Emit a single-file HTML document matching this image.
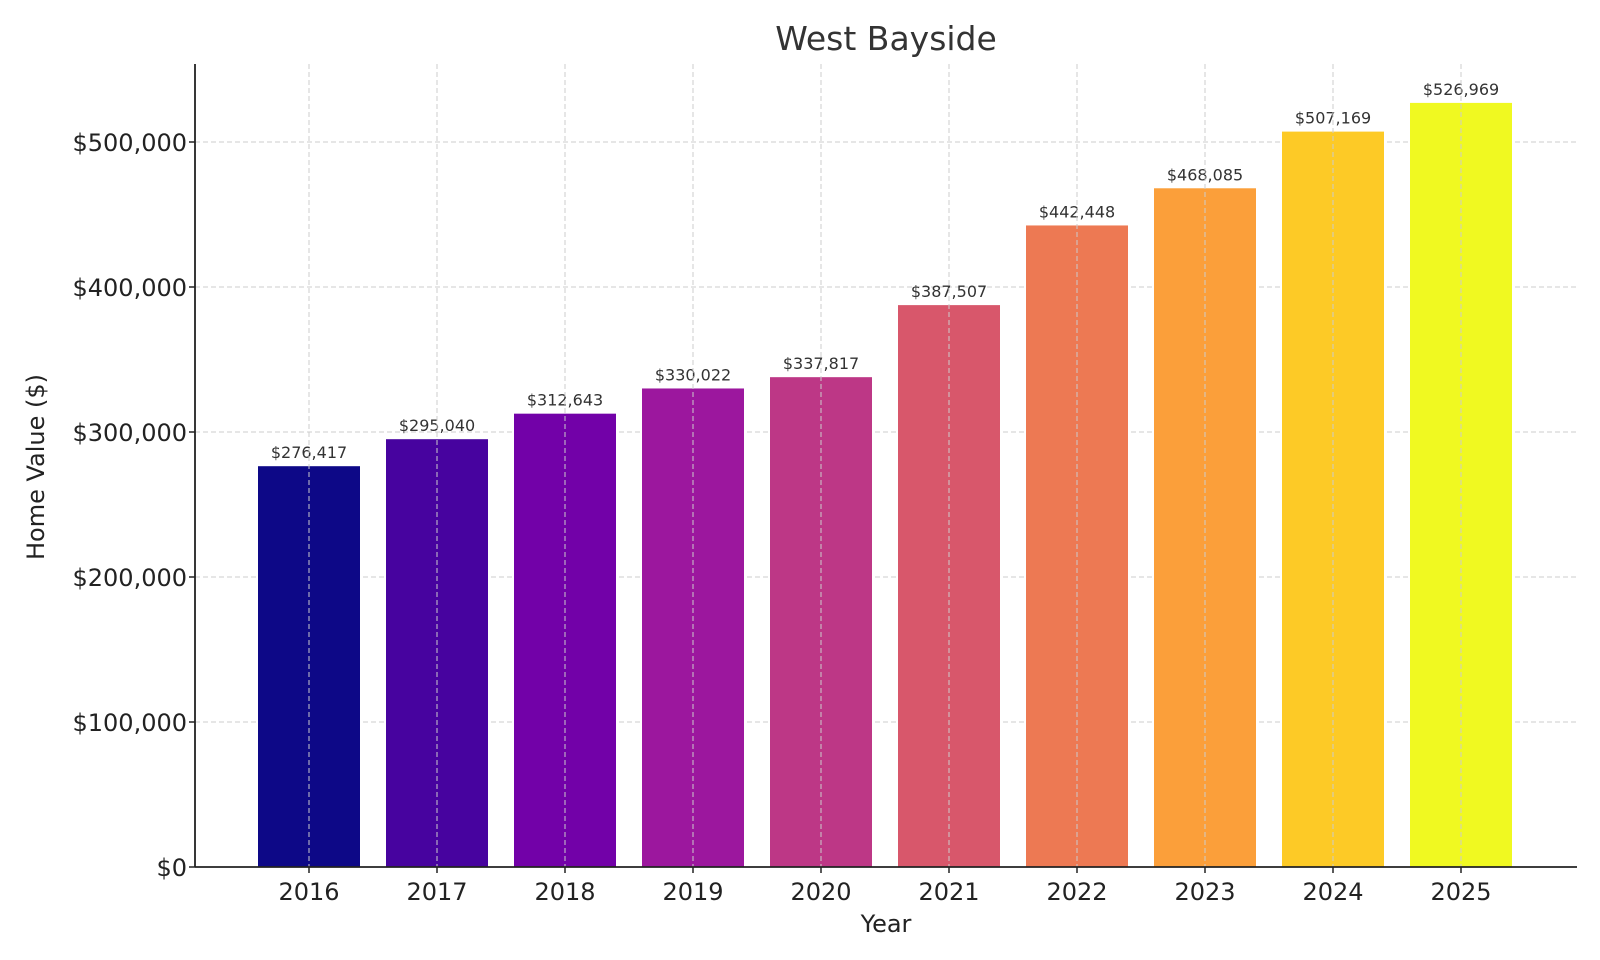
<!DOCTYPE html>
<html><head><meta charset="utf-8"><style>
html,body{margin:0;padding:0;background:#fff}
svg{display:block;font-family:"DejaVu Sans","Liberation Sans",sans-serif}
</style></head><body>
<svg id="chart" width="1600" height="960">
<text x="886" y="50" font-size="33" fill="#333" text-anchor="middle">West Bayside</text>
<text x="886" y="932" font-size="24" fill="#222" text-anchor="middle">Year</text>
<text transform="translate(44,467) rotate(-90)" font-size="24" fill="#222" text-anchor="middle">Home Value ($)</text>
<g id="grid"></g><g id="bars"></g><g id="axes"></g>
</svg>
<script>
const years=["2016","2017","2018","2019","2020","2021","2022","2023","2024","2025"];
const values=[276417,295040,312643,330022,337817,387507,442448,468085,507169,526969];
const yTicks=[0,100000,200000,300000,400000,500000];
const colors=["#0d0887","#47039f","#7201a8","#9c179e","#bd3786","#d8576b","#ed7953","#fb9f3a","#fdca26","#f0f921"];
const L=195,R=1577,T=64,B=867;
const y=v=>B-(v/500000)*(B-142);
const x=i=>309+i*128;
const bw=102;
const NS="http://www.w3.org/2000/svg";
function mk(t,a,p){const e=document.createElementNS(NS,t);for(const k in a)e.setAttribute(k,a[k]);p.appendChild(e);return e;}
const fmt=v=>"$"+v.toLocaleString("en-US");
const g=document.getElementById("grid"),b=document.getElementById("bars"),ax=document.getElementById("axes");
yTicks.forEach(t=>{
 const l=mk("line",{x1:L,x2:R,y1:y(t),y2:y(t),stroke:"#ccc","stroke-dasharray":"5,3","stroke-width":1},g);
 
 
 const tk=mk("line",{x1:L-6,x2:L,y1:y(t),y2:y(t),stroke:"#222","stroke-width":1.5},ax);
 
 
 const tx=mk("text",{x:L-8,y:y(t)+9,"font-size":24,fill:"#222","text-anchor":"end"},ax);
 tx.textContent=fmt(t);
 
 
});
years.forEach((yr,i)=>{
 const r=mk("rect",{x:x(i)-bw/2,y:y(values[i]),width:bw,height:B-y(values[i]),fill:colors[i]},b);
 
 
 const vl=mk("text",{x:x(i),y:y(values[i])-8,"font-size":16,fill:"#333","text-anchor":"middle"},b);
 vl.textContent=fmt(values[i]);
 
 
 const gl=mk("line",{x1:x(i),x2:x(i),y1:T,y2:B,stroke:"#ccc","stroke-dasharray":"5,3","stroke-width":1},b);
 
 
 const tk=mk("line",{x1:x(i),x2:x(i),y1:B,y2:B+6,stroke:"#222","stroke-width":1.5},ax);
 
 
 const tx=mk("text",{x:x(i),y:B+33,"font-size":24,fill:"#222","text-anchor":"middle"},ax);
 tx.textContent=yr;
 
 
});
const la=mk("line",{x1:L,x2:L,y1:T,y2:B,stroke:"#222","stroke-width":1.8},ax);


const ba=mk("line",{x1:L,x2:R,y1:B,y2:B,stroke:"#222","stroke-width":1.8},ax);


</script>
</body></html>
